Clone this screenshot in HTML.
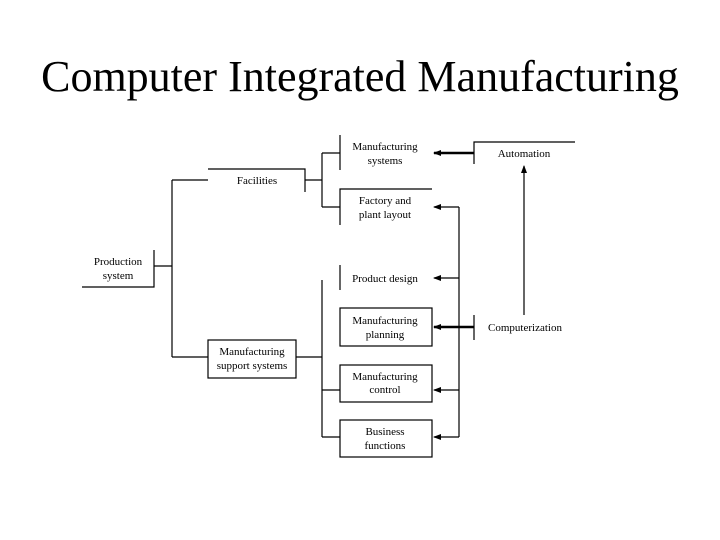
<!DOCTYPE html>
<html><head><style>
body{margin:0;background:#fff;width:720px;height:540px;overflow:hidden}
.t{position:absolute;left:0;top:51px;width:720px;text-align:center;font-family:"Liberation Serif",serif;font-size:44px;color:#000}
</style></head><body>
<div class="t">Computer Integrated Manufacturing</div>
<svg width="720" height="540" style="position:absolute;left:0;top:0">
<defs><marker id="a" markerWidth="8" markerHeight="6" refX="7" refY="3" orient="auto" markerUnits="userSpaceOnUse"><path d="M0,0L8,3L0,6z" fill="#000"/></marker></defs>
<g stroke="#000" stroke-width="1.2" fill="none">
<path d="M82,287H154V250"/>
<path d="M154,266H172M172,180V357M172,180H208M172,357H208"/>
<path d="M208,169H305V192M305,180H322M322,153V207M322,153H340M322,207H340"/>
<path d="M340,135V170"/>
<path d="M340,225V189H432"/>
<path d="M340,265V290"/>
<rect x="340" y="308" width="92" height="38"/>
<rect x="208" y="340" width="88" height="38"/>
<path d="M296,357H322M322,280V437M322,390H340M322,437H340"/>
<rect x="340" y="365" width="92" height="37"/>
<rect x="340" y="420" width="92" height="37"/>
<path d="M474,164V142H575"/>
<path d="M474,315V340"/>
<path d="M459,207V437"/>
<path d="M459,207H434" marker-end="url(#a)"/>
<path d="M459,278H434" marker-end="url(#a)"/>
<path d="M459,390H434" marker-end="url(#a)"/>
<path d="M459,437H434" marker-end="url(#a)"/>
<path d="M524,315V166" marker-end="url(#a)"/>
</g>
<g stroke="#000" stroke-width="2.5">
<path d="M474,153H434" marker-end="url(#a)"/>
<path d="M474,327H434" marker-end="url(#a)"/>
</g>
<g font-family="Liberation Serif,serif" font-size="11" text-anchor="middle" fill="#000">
<text x="118" y="265">Production</text><text x="118" y="279">system</text>
<text x="257" y="184">Facilities</text>
<text x="385" y="150">Manufacturing</text><text x="385" y="164">systems</text>
<text x="385" y="204">Factory and</text><text x="385" y="218">plant layout</text>
<text x="385" y="282">Product design</text>
<text x="385" y="324">Manufacturing</text><text x="385" y="338">planning</text>
<text x="252" y="355">Manufacturing</text><text x="252" y="369">support systems</text>
<text x="385" y="380">Manufacturing</text><text x="385" y="393">control</text>
<text x="385" y="435">Business</text><text x="385" y="449">functions</text>
<text x="524" y="157">Automation</text>
<text x="525" y="331">Computerization</text>
</g>
</svg>
</body></html>
